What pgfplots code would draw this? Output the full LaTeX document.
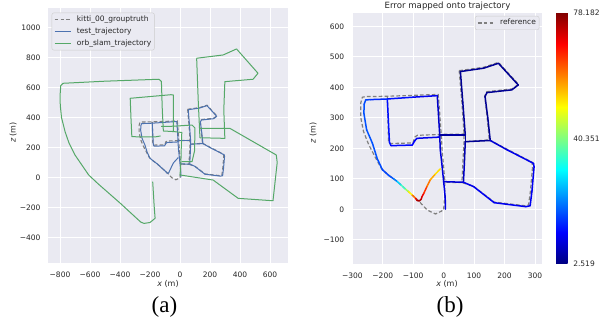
\documentclass[border=0pt]{standalone}
\usepackage{fontspec}
\setmainfont{DejaVu Sans}
\newfontfamily\capfont{Liberation Serif}
\usepackage{pgfplots}
\usepackage{pgfplotstable}
\pgfplotsset{compat=1.18}
\definecolor{sbbg}{HTML}{EAEAF2}
\definecolor{sbblue}{HTML}{4C72B0}
\definecolor{sbgreen}{HTML}{55A868}
\definecolor{sbgray}{HTML}{7F7F7F}
\definecolor{sbtext}{HTML}{262626}
\definecolor{sblegend}{HTML}{CCCCCC}
\newcommand{\tickfont}{\fontsize{7.5bp}{9bp}\selectfont}

% ground truth (KITTI 00), nan rows separate pieces
\pgfplotstableread{
x y
0 0
4 50
4 91
-5 195
-8 244
-14 330
-18 377
-100 374
-185 371
-255 370
-267 368
-272 350
-272 300
-263 255
-246 212
-224 170
-204 133
-180 112
-152 91
-98 42
-85 31
-54 -2
-27 -15
-8 -6
0 0
nan nan
-185 371
-183 300
-181 222
-176 216
-101 218
-94 238
-86 243
-8 246
67 247
nan nan
51 455
60 350
67 247
67 222
63 150
60 88
4 89
nan nan
51 455
131 466
180 482
246 410
224 395
142 386
135 372
143 300
150 228
67 222
nan nan
150 228
207 198
290 155
292 140
285 60
279 15
268 12
166 24
98 76
60 88
}\gt

% estimated trajectory pieces with error (m)
\pgfplotstableread{
x y m
6 1 10
5 40 10
0 91 10
-6 150 9
-11 195 9
-13 244 8
-17 310 8
-21 373 8
}\estA
\pgfplotstableread{
x y m
-21 373 10
-100 368 12
-185 362 14
-240 360 16
-256 359 17
-261 345 18
-262 315 18
-253 261 18
-234 217 18
-218 166 18
-201 130 17
-180 111 17
-164 100 19
-152 91 24
-140 80 31
-125 66 40
-115 58 46
-103 47 55
-92 36 66
-87 29 75
-80 28 76
-74 33 74
-71 42 72
-65 53 68
-55 75 62
-44 97 58
-28 115 54
-11 133 50
}\estB
\pgfplotstableread{
x y m
-185 362 13
-182 300 13
-178 220 13
-173 209 13
-103 211 12
-95 225 12
-88 233 11
-15 237 10
-13 244 10
}\estC
\pgfplotstableread{
x y m
-13 244 5
30 244 5
71 244 5
}\estD
\pgfplotstableread{
x y m
55 452 4
63 350 4
71 244 5
71 222 5
68 150 7
65 89 8
}\estE
\pgfplotstableread{
x y m
0 91 9
65 89 9
}\estF
\pgfplotstableread{
x y m
55 452 4
131 463 4
164 474 4
180 479 4
245 408 4
224 392 4
142 383 4
136 370 4
145 300 4
153 226 4
}\estG
\pgfplotstableread{
x y m
71 222 4
153 226 4
}\estH
\pgfplotstableread{
x y m
153 226 8
207 196 10
295 151 11
297 140 11
290 60 11
284 12 11
270 9 11
166 22 11
98 75 11
65 89 10
}\estI

% orb slam trajectory
\pgfplotstableread{
x y
0 10
6 100
8 183
12 300
-40 306
-111 310
-118 450
-124 640
-140 655
-500 642
-780 628
-795 612
-800 540
-798 480
-790 400
-766 305
-740 230
-700 150
-609 17
-545 -43
-400 -170
-262 -297
-240 -306
-200 -300
-166 -272
-172 -194
-182 -28
nan nan
-44 305
-44 550
-60 552
-332 528
-327 400
-321 272
-168 270
-130 277
nan nan
-126 340
-40 342
80 350
100 330
97 177
80 105
12 105
nan nan
0 17
221 -17
388 -139
620 -155
648 100
642 150
332 328
133 328
nan nan
111 795
288 817
377 857
520 695
487 655
299 639
292 450
299 261
133 265
nan nan
111 795
122 500
133 265
}\orb

\pgfplotsset{
  sbaxis/.style={
    scale only axis,
    axis background/.style={fill=sbbg},
    axis line style={draw=none},
    major tick length=0pt,
    tick style={draw=none},
    grid=major,
    major grid style={white, line width=0.9bp},
    tick label style={font=\tickfont, text=sbtext},
    xticklabel style={inner sep=0pt, anchor=north, yshift=-8.5bp, text height=5.5bp, text depth=0pt},
    yticklabel style={inner sep=0pt, anchor=east, xshift=-7.3bp},
    legend cell align=left,
    legend image code/.code={\draw[##1] (0bp,0bp) -- (16bp,0bp);},
    legend style={draw=sblegend, fill=sbbg, rounded corners=2bp, font=\tickfont, text=sbtext,
      inner sep=2.2bp, row sep=2.6bp, column sep=4.7bp,
      nodes={inner sep=1bp, text height=5.6bp, text depth=1.6bp}},
  },
  gtline/.style={sbgray, line width=1.1bp, dash pattern=on 3.7bp off 2.2bp},
  errline/.style={mesh, point meta=explicit, line width=1.5bp, line cap=round, line join=round, forget plot},
}

\begin{document}
\begin{tikzpicture}
% ---------------- (a) ----------------
\begin{axis}[sbaxis,
  at={(48bp,57bp)}, anchor=south west,
  width=240bp, height=255bp,
  xmin=-880, xmax=720, ymin=-570, ymax=1130,
  xtick={-800,-600,-400,-200,0,200,400,600},
  xticklabels={−800,−600,−400,−200,0,200,400,600},
  ytick={-400,-200,0,200,400,600,800,1000},
  yticklabels={−400,−200,0,200,400,600,800,1000},
  legend style={at={(0,1)}, anchor=north west, xshift=3.7bp, yshift=-4.7bp},
]
\addlegendimage{gtline}
\addlegendentry{kitti\_00\_grouptruth}
\addlegendimage{sbblue, line width=1.1bp}
\addlegendentry{test\_trajectory}
\addlegendimage{sbgreen, line width=1.1bp}
\addlegendentry{orb\_slam\_trajectory}
\addplot[gtline, unbounded coords=jump, forget plot] table[x=x,y=y] {\gt};
\addplot[sbblue, line width=1bp, line join=round, forget plot] table[x=x,y=y] {\estA};
\addplot[sbblue, line width=1bp, line join=round, forget plot] table[x=x,y=y] {\estB};
\addplot[sbblue, line width=1bp, line join=round, forget plot] table[x=x,y=y] {\estC};
\addplot[sbblue, line width=1bp, line join=round, forget plot] table[x=x,y=y] {\estD};
\addplot[sbblue, line width=1bp, line join=round, forget plot] table[x=x,y=y] {\estE};
\addplot[sbblue, line width=1bp, line join=round, forget plot] table[x=x,y=y] {\estF};
\addplot[sbblue, line width=1bp, line join=round, forget plot] table[x=x,y=y] {\estG};
\addplot[sbblue, line width=1bp, line join=round, forget plot] table[x=x,y=y] {\estH};
\addplot[sbblue, line width=1bp, line join=round, forget plot] table[x=x,y=y] {\estI};
\addplot[sbgreen, line width=1bp, line join=round, unbounded coords=jump, forget plot] table[x=x,y=y] {\orb};
\end{axis}

% ---------------- (b) ----------------
\begin{axis}[sbaxis,
  at={(351.7bp,56bp)}, anchor=south west,
  width=190.6bp, height=251.3bp,
  xmin=-302, xmax=324, ymin=-179, ymax=645,
  xtick={-300,-200,-100,0,100,200,300},
  xticklabels={−300,−200,−100,0,100,200,300},
  ytick={-100,0,100,200,300,400,500,600},
  yticklabels={−100,0,100,200,300,400,500,600},
  colormap/jet,
  point meta min=2.519, point meta max=78.182,
  colorbar,
  colorbar shift/.style={xshift=13.7bp},
  colorbar style={
    at={(parent axis.south east)}, anchor=south west,
    scale only axis, width=11.7bp, height=251.3bp,
    axis line style={draw=none},
    ytick={2.519,40.351,78.182},
    yticklabels={2.519,40.351,78.182},
    yticklabel pos=right, ytick pos=right,
    tick align=outside,
    major tick length=3bp,
    ytick style={sbtext, line width=0.6bp},
    yticklabel style={font=\tickfont, text=sbtext, inner sep=0pt, anchor=west, xshift=2.4bp},
  },
  legend style={at={(1,1)}, anchor=north east, xshift=-3bp, yshift=-3.3bp},
]
\addlegendimage{gtline}
\addlegendentry{reference}
\addplot[gtline, line width=1.2bp, unbounded coords=jump, forget plot] table[x=x,y=y] {\gt};
\addplot[errline] table[x=x,y=y,meta=m] {\estA};
\addplot[errline] table[x=x,y=y,meta=m] {\estC};
\addplot[errline] table[x=x,y=y,meta=m] {\estD};
\addplot[errline] table[x=x,y=y,meta=m] {\estE};
\addplot[errline] table[x=x,y=y,meta=m] {\estF};
\addplot[errline] table[x=x,y=y,meta=m] {\estG};
\addplot[errline] table[x=x,y=y,meta=m] {\estH};
\addplot[errline] table[x=x,y=y,meta=m] {\estI};
\addplot[errline] table[x=x,y=y,meta=m] {\estB};
\end{axis}

% labels, title, captions
\node[anchor=base, font=\fontsize{8bp}{9.6bp}\selectfont, text=sbtext] at (168bp,34bp) {\itshape x\upshape{} (m)};
\node[anchor=base, font=\fontsize{8bp}{9.6bp}\selectfont, text=sbtext] at (447bp,33.5bp) {\itshape x\upshape{} (m)};
\node[anchor=base, rotate=90, font=\fontsize{8bp}{9.6bp}\selectfont, text=sbtext] at (15.5bp,187.5bp) {\itshape z\upshape{} (m)};
\node[anchor=base, rotate=90, font=\fontsize{8bp}{9.6bp}\selectfont, text=sbtext] at (315.6bp,187bp) {\itshape z\upshape{} (m)};
\node[anchor=base, font=\fontsize{8.6bp}{10bp}\selectfont, text=sbtext] at (447.5bp,311.8bp) {Error mapped onto trajectory};
\node[anchor=base, font=\capfont\fontsize{23bp}{27bp}\selectfont] at (164.5bp,7.4bp) {(a)};
\node[anchor=base, font=\capfont\fontsize{23bp}{27bp}\selectfont] at (450bp,7.4bp) {(b)};

\pgfresetboundingbox
\path[use as bounding box] (0,0) rectangle (601bp,320bp);
\end{tikzpicture}
\end{document}
